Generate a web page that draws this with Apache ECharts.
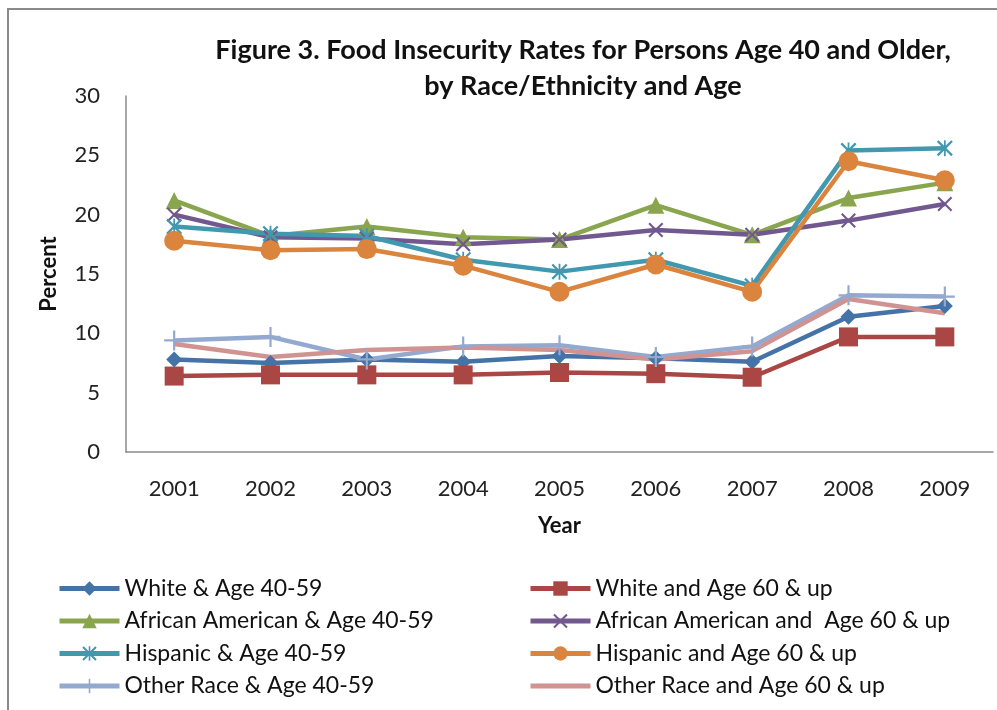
<!DOCTYPE html>
<html>
<head>
<meta charset="utf-8">
<script src="https://cdn.jsdelivr.net/npm/echarts@6/dist/echarts.min.js"></script>
<style>
  html, body { margin: 0; padding: 0; background: #fff; }
  #chart { width: 997px; height: 710px; }
</style>
</head>
<body>
<div id="chart"></div>
<script>
// Survey years on the category axis
const years = ['2001', '2002', '2003', '2004', '2005', '2006', '2007', '2008', '2009'];

// Food insecurity rate (percent) by group
const whiteAge4059      = [7.8, 7.5, 7.8, 7.6, 8.1, 7.9, 7.6, 11.4, 12.3];
const whiteAge60up      = [6.4, 6.5, 6.5, 6.5, 6.7, 6.6, 6.3, 9.7, 9.7];
const africanAm4059     = [21.2, 18.2, 19.0, 18.1, 17.9, 20.8, 18.3, 21.4, 22.7];
const africanAm60up     = [20.0, 18.1, 18.0, 17.5, 17.9, 18.7, 18.3, 19.5, 20.9];
const hispanic4059      = [19.0, 18.4, 18.2, 16.2, 15.2, 16.2, 14.0, 25.4, 25.6];
const hispanic60up      = [17.8, 17.0, 17.1, 15.7, 13.5, 15.8, 13.5, 24.5, 22.9];
const otherRace4059     = [9.4, 9.7, 7.8, 8.9, 9.0, 8.0, 8.9, 13.2, 13.1];
const otherRace60up     = [9.1, 8.0, 8.6, 8.8, 8.6, 7.8, 8.5, 12.9, 11.7];

// Y axis ticks
const yTicks = [0, 5, 10, 15, 20, 25, 30];

const seriesNames = [
  'White & Age 40-59',
  'White and Age 60 & up',
  'African American & Age 40-59',
  'African American and  Age 60 & up',
  'Hispanic & Age 40-59',
  'Hispanic and Age 60 & up',
  'Other Race & Age 40-59',
  'Other Race and Age 60 & up'
];
const seriesData = [whiteAge4059, whiteAge60up, africanAm4059, africanAm60up,
                    hispanic4059, hispanic60up, otherRace4059, otherRace60up];

// Marker shapes
const xMark = 'path://M1,0L5,4L9,0L10,1L6,5L10,9L9,10L5,6L1,10L0,9L4,5L0,1Z';
const starMark = 'path://M1,0L5,4L9,0L10,1L6,5L10,9L9,10L5,6L1,10L0,9L4,5L0,1Z M4.45,0L5.55,0L5.55,10L4.45,10Z';
const plusMark = 'path://M4.45,0L5.55,0L5.55,4.45L10,4.45L10,5.55L5.55,5.55L5.55,10L4.45,10L4.45,5.55L0,5.55L0,4.45L4.45,4.45Z';
// Plain line icon for the series drawn without markers
const lineOnlyIcon = 'path://M0,0L0,0Z M0,6.5L60,6.5L60,11.5L0,11.5Z M60,18L60,18Z';

const styles = [
  { color: '#4572A7', symbol: 'diamond',  size: 16 },
  { color: '#AA4643', symbol: 'rect',     size: 19 },
  { color: '#89A54E', symbol: 'triangle', size: 17 },
  { color: '#71588F', symbol: xMark,      size: 15 },
  { color: '#4198AF', symbol: starMark,   size: 16 },
  { color: '#DB843D', symbol: 'circle',   size: 20 },
  { color: '#93A9CF', symbol: plusMark,   size: 20 },
  { color: '#D19392', symbol: 'none',     size: 0 }
];

const font = 'Lato, "Open Sans", sans-serif';

const series = seriesNames.map((name, i) => ({
  name: name,
  type: 'line',
  data: seriesData[i],
  symbol: styles[i].symbol,
  symbolSize: styles[i].size,
  showSymbol: styles[i].symbol !== 'none',
  lineStyle: { color: styles[i].color, width: 4.5 },
  itemStyle: { color: styles[i].color },
  emphasis: { disabled: true },
  animation: false
}));

function legendItem(i) {
  const item = { name: seriesNames[i] };
  if (styles[i].symbol === 'none') {
    item.icon = lineOnlyIcon;
    item.itemStyle = { color: styles[i].color };
  }
  return item;
}

const legendBase = {
  orient: 'vertical',
  padding: 0,
  itemWidth: 60,
  itemHeight: 18,
  itemGap: 9.5,
  lineStyle: { width: 5 },
  textStyle: { fontFamily: font, fontSize: 23, color: '#111' }
};

const chart = echarts.init(document.getElementById('chart'), null, { renderer: 'canvas' });
chart.setOption({
  backgroundColor: '#fff',
  animation: false,
  graphic: [{
    type: 'rect',
    shape: { x: 8, y: 9, width: 1000, height: 720 },
    style: { fill: 'none', stroke: '#8a8a8a', lineWidth: 2 },
    silent: true
  }],
  title: {
    text: 'Figure 3. Food Insecurity Rates for Persons Age 40 and Older,\nby Race/Ethnicity and Age',
    left: 578,
    top: 27,
    textAlign: 'center',
    textStyle: { fontFamily: font, fontSize: 27, fontWeight: 'bold', color: '#111', lineHeight: 36, align: 'center' }
  },
  legend: [
    Object.assign({}, legendBase, { left: 57, top: 577, data: [0, 2, 4, 6].map(legendItem) }),
    Object.assign({}, legendBase, { left: 528, top: 577, data: [1, 3, 5, 7].map(legendItem) })
  ],
  grid: { left: 126, right: 4, top: 96, bottom: 258, containLabel: false },
  xAxis: {
    type: 'category',
    data: years,
    boundaryGap: true,
    name: 'Year',
    nameLocation: 'middle',
    nameGap: 63,
    nameTextStyle: { fontFamily: font, fontSize: 22, fontWeight: 'bold', color: '#111' },
    axisLine: { lineStyle: { color: '#8a8a8a', width: 1.5 } },
    axisTick: { show: false },
    axisLabel: { fontFamily: font, fontSize: 22, color: '#222', margin: 26 }
  },
  yAxis: {
    type: 'value',
    min: yTicks[0],
    max: yTicks[yTicks.length - 1],
    interval: yTicks[1] - yTicks[0],
    name: 'Percent',
    nameLocation: 'middle',
    nameGap: 66,
    nameRotate: 90,
    nameTextStyle: { fontFamily: font, fontSize: 22, fontWeight: 'bold', color: '#111' },
    axisLine: { show: true, lineStyle: { color: '#8a8a8a', width: 1.5 } },
    axisTick: { show: false },
    splitLine: { show: false },
    axisLabel: { fontFamily: font, fontSize: 22, color: '#222', margin: 26 }
  },
  series: series
});
</script>
</body>
</html>
